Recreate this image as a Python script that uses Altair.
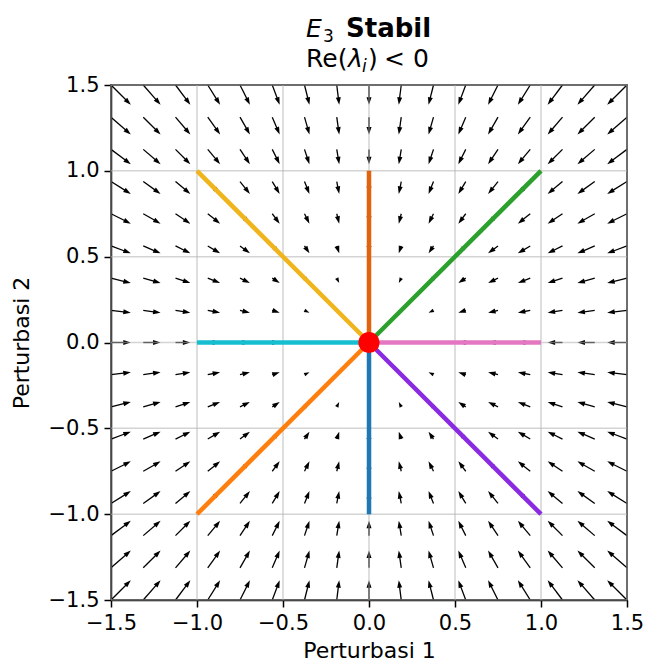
import math
import altair as alt
import pandas as pd

# ---- data ----
GRID = [-1.5, -1.3125, -1.125, -0.9375, -0.75, -0.5625, -0.375, -0.1875, 0.0,
        0.1875, 0.375, 0.5625, 0.75, 0.9375, 1.125, 1.3125, 1.5]
TICKS = [-1.5, -1.0, -0.5, 0.0, 0.5, 1.0, 1.5]
LINE_END_X = [0, 1, 1, 1, 0, -1, -1, -1]
LINE_END_Y = [1, 1, 0, -1, -1, -1, 0, 1]
LINE_COLORS = ["#e2630e", "#2ca02c", "#e377c2", "#8a2be2",
               "#1f77b4", "#ff7f0e", "#17becf", "#f0b51c"]
EQ_X = [0.0]
EQ_Y = [0.0]

W, H = 516, 515
PX = W / 3.0          # pixels per data unit
PX_PER_MAG = 13.2     # arrow length in px per unit of vector magnitude
HEAD = 7.5            # head length in px

shaft_rows, head_rows = [], []
for x in GRID:
    for y in GRID:
        u, v = -x, -y
        mag = math.hypot(u, v)
        if mag == 0:
            continue
        ux, uy = u / mag, v / mag
        L = PX_PER_MAG * mag
        head = min(HEAD, L)
        tipx, tipy = x + ux * L / PX, y + uy * L / PX
        if L > head:
            sx, sy = tipx - ux * head * 0.7 / PX, tipy - uy * head * 0.7 / PX
            shaft_rows.append({"x": x, "y": y, "x2": sx, "y2": sy})
        unit = head / 3.0
        head_rows.append({"x": tipx, "y": tipy, "size": (2 * unit) ** 2,
                          "angle": math.degrees(math.atan2(ux, uy)) % 360})

shafts = pd.DataFrame(shaft_rows)
heads = pd.DataFrame(head_rows)
lines = pd.DataFrame({"x": [0.0] * 8, "y": [0.0] * 8, "x2": LINE_END_X,
                      "y2": LINE_END_Y, "c": LINE_COLORS})
eq = pd.DataFrame({"x": EQ_X, "y": EQ_Y})
vgrid = pd.DataFrame({"x": TICKS, "y": [-1.5] * len(TICKS), "y2": [1.5] * len(TICKS)})
hgrid = pd.DataFrame({"y": TICKS, "x": [-1.5] * len(TICKS), "x2": [1.5] * len(TICKS)})

FONT = "DejaVu Sans"
xscale = alt.Scale(domain=[-1.5, 1.5], nice=False, zero=False)
yscale = alt.Scale(domain=[-1.5, 1.5], nice=False, zero=False)
xaxis = alt.Axis(values=TICKS, format=".1f", title="Perturbasi 1")
yaxis = alt.Axis(values=TICKS, format=".1f", title="Perturbasi 2")


def X(f="x"):
    return alt.X(f, type="quantitative", scale=xscale, axis=xaxis, title="Perturbasi 1")


def Y(f="y"):
    return alt.Y(f, type="quantitative", scale=yscale, axis=yaxis, title="Perturbasi 2")


shaft_layer = alt.Chart(shafts).mark_rule(color="black", strokeWidth=1.3).encode(
    x=X(), y=Y(), x2="x2", y2="y2")

head_layer = alt.Chart(heads).mark_point(
    shape="M0,0L-1,3L1,3Z", filled=True, color="black", opacity=1, strokeWidth=0
).encode(x=X(), y=Y(),
         size=alt.Size("size:Q", scale=None),
         angle=alt.Angle("angle:Q", scale=None))

vgrid_layer = alt.Chart(vgrid).mark_rule(color="#b0b0b0", opacity=0.55, strokeWidth=1.5).encode(
    x=X(), y=Y(), y2="y2")
hgrid_layer = alt.Chart(hgrid).mark_rule(color="#b0b0b0", opacity=0.55, strokeWidth=1.5).encode(
    x=X(), y=Y(), x2="x2")

line_layer = alt.Chart(lines).mark_rule(strokeWidth=4.5, strokeCap="butt").encode(
    x=X(), y=Y(), x2="x2", y2="y2", color=alt.Color("c:N", scale=None))

eq_layer = alt.Chart(eq).mark_circle(size=450, color="red", opacity=1).encode(x=X(), y=Y())


def txt(s, xpx, ypx, size, weight="normal", style="normal"):
    return alt.Chart(pd.DataFrame({"t": [s]})).mark_text(
        align="left", baseline="alphabetic", font=FONT, fontSize=size,
        fontWeight=weight, fontStyle=style, color="black"
    ).encode(x=alt.value(xpx), y=alt.value(ypx), text="t:N")


title_layers = [
    txt("E", 195, -48, 25, style="italic"),
    txt("3", 212, -43, 17),
    txt("Stabil", 235, -48, 26, weight="bold"),
    txt("Re(", 195, -18, 25),
    txt("λ", 237, -18, 25, style="italic"),
    txt("i", 251, -13, 17, style="italic"),
    txt(")", 257, -18, 25),
    txt("< 0", 273, -18, 25),
]

chart = alt.layer(
    shaft_layer, head_layer, vgrid_layer, hgrid_layer, line_layer, eq_layer, *title_layers
).properties(
    width=W, height=H,
    autosize=alt.AutoSizeParams(type="none"),
    padding={"left": 111, "top": 85, "right": 18, "bottom": 63},
).configure_view(
    stroke="black", strokeWidth=1.5
).configure_axis(
    grid=False, domain=True, domainColor="black", domainWidth=1.5,
    ticks=True, tickColor="black", tickWidth=1.5, tickSize=7,
    labelFont=FONT, labelFontSize=21, labelColor="black", labelPadding=5,
    titleFont=FONT, titleFontSize=22, titleFontWeight="normal", titleColor="black",
    labelFlush=False, labelOverlap=False,
).configure_axisX(titlePadding=7).configure_axisY(titlePadding=15)

chart.save("out.html", embed_options={"renderer": "svg", "actions": False})
